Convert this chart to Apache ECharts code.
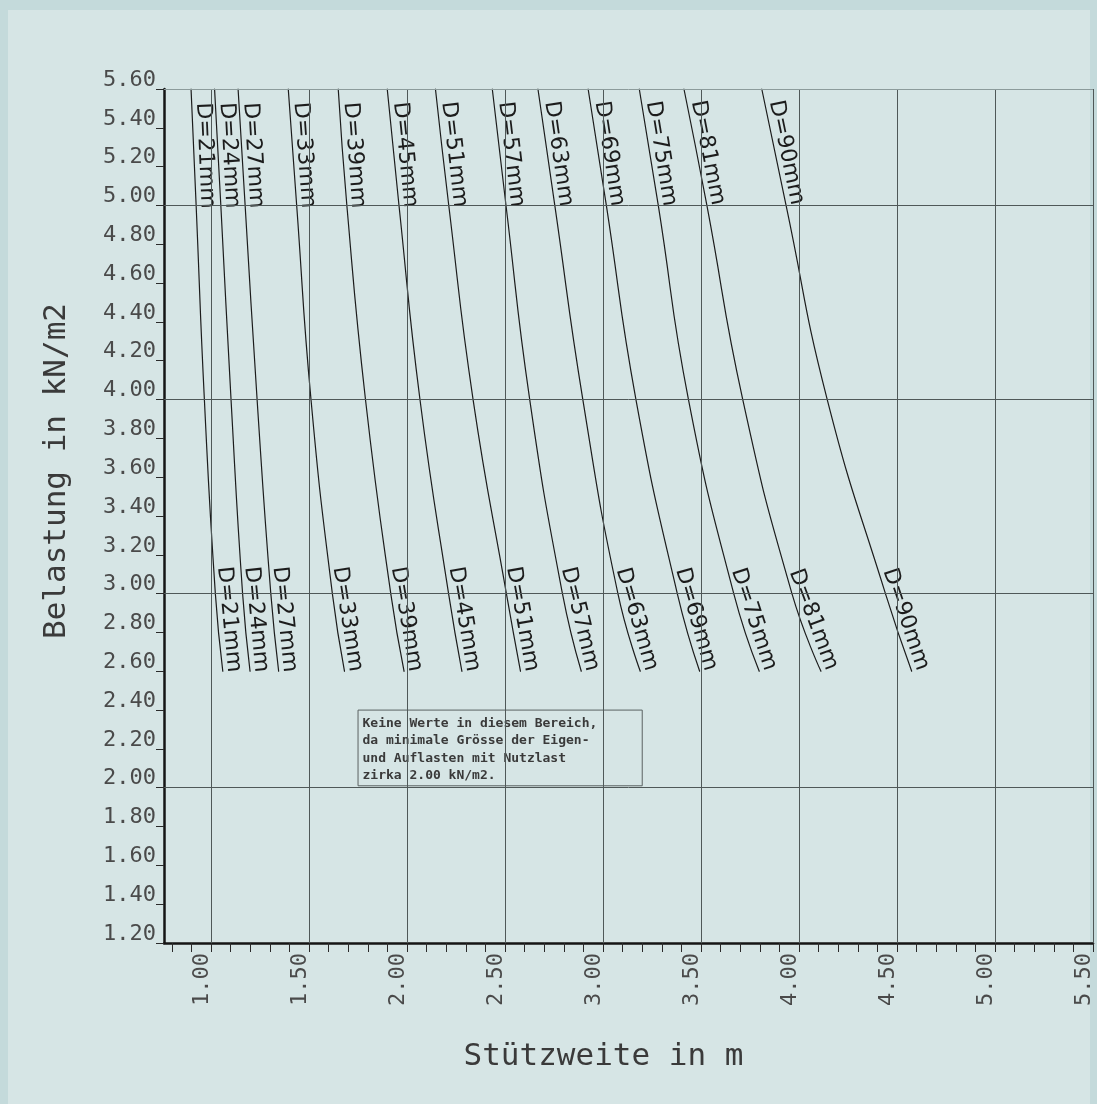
<!DOCTYPE html>
<html>
<head>
<meta charset="utf-8">
<title>Belastung / Stützweite</title>
<script src="https://cdn.jsdelivr.net/npm/echarts@6/dist/echarts.min.js"></script>
<style>
  html, body { margin: 0; padding: 0; background: #c4dadb; }
  #panel { position: absolute; left: 8px; top: 10px; width: 1082px; height: 1094px; background: #d6e5e5; }
  #chart { position: absolute; left: 0; top: 0; width: 1097px; height: 1104px; }
</style>
</head>
<body>
<div id="panel"></div>
<div id="chart"></div>
<script>
// Tube diameters (mm), one curve each
const diameters = [21, 24, 27, 33, 39, 45, 51, 57, 63, 69, 75, 81, 90];

// Load levels (kN/m2) at which each curve is sampled
const loads = [5.6, 5.0, 4.0, 3.0, 2.6];

// Span (m) reached at each load level, per diameter
const span21 = [0.898, 0.924, 0.966, 1.022, 1.060];
const span24 = [1.018, 1.050, 1.102, 1.161, 1.199];
const span27 = [1.138, 1.174, 1.235, 1.305, 1.345];
const span33 = [1.394, 1.437, 1.510, 1.619, 1.681];
const span39 = [1.649, 1.693, 1.788, 1.917, 1.985];
const span45 = [1.899, 1.959, 2.066, 2.212, 2.280];
const span51 = [2.145, 2.213, 2.337, 2.507, 2.579];
const span57 = [2.435, 2.505, 2.626, 2.793, 2.889];
const span63 = [2.668, 2.754, 2.897, 3.076, 3.190];
const span69 = [2.924, 3.017, 3.168, 3.379, 3.493];
const span75 = [3.185, 3.282, 3.436, 3.667, 3.797];
const span81 = [3.413, 3.530, 3.713, 3.964, 4.112];
const span90 = [3.810, 3.934, 4.144, 4.441, 4.575];
const spans = [span21, span24, span27, span33, span39, span45, span51,
               span57, span63, span69, span75, span81, span90];

// Axis ticks and labels
const xLabelValues = [1.0, 1.5, 2.0, 2.5, 3.0, 3.5, 4.0, 4.5, 5.0, 5.5];
const xTickValues = [0.8, 0.9, 1.0, 1.1, 1.2, 1.3, 1.4, 1.5, 1.6, 1.7, 1.8, 1.9,
                     2.0, 2.1, 2.2, 2.3, 2.4, 2.5, 2.6, 2.7, 2.8, 2.9, 3.0, 3.1,
                     3.2, 3.3, 3.4, 3.5, 3.6, 3.7, 3.8, 3.9, 4.0, 4.1, 4.2, 4.3,
                     4.4, 4.5, 4.6, 4.7, 4.8, 4.9, 5.0, 5.1, 5.2, 5.3, 5.4, 5.5];
const yTickValues = [1.2, 1.4, 1.6, 1.8, 2.0, 2.2, 2.4, 2.6, 2.8, 3.0, 3.2, 3.4,
                     3.6, 3.8, 4.0, 4.2, 4.4, 4.6, 4.8, 5.0, 5.2, 5.4, 5.6];

// Grid lines
const xGridValues = [1.0, 1.5, 2.0, 2.5, 3.0, 3.5, 4.0, 4.5, 5.0, 5.5];
const yGridValues = [2.0, 3.0, 4.0, 5.0];
const yTopLine = 5.6;

// Note box text
const noteLines = [
  'Keine Werte in diesem Bereich,',
  'da minimale Grösse der Eigen-',
  'und Auflasten mit Nutzlast',
  'zirka 2.00 kN/m2.'
];

const INK = '#1c1c1c';
const GRIDINK = '#4f5858';
const TICKFONT = 'DejaVu Sans Mono';

const chart = echarts.init(document.getElementById('chart'), null, { renderer: 'canvas' });

function curveLabel(text, rotate, align, offset) {
  return {
    show: true,
    formatter: text,
    position: 'inside',
    rotate: rotate,
    align: align,
    verticalAlign: 'bottom',
    offset: offset,
    fontFamily: 'DejaVu Sans',
    fontSize: 22,
    lineHeight: 20,
    color: INK
  };
}

function buildCurves(angles) {
  return diameters.map((d, i) => {
    const name = 'D=' + d + 'mm';
    const last = loads.length - 1;
    const data = loads.map((y, k) => {
      const item = { value: [spans[i][k], y] };
      if (angles) {
        if (k === 0) item.label = curveLabel(name, -angles[i].top, 'left', [14, -1]);
        if (k === last) item.label = curveLabel(name, -angles[i].bottom, 'right', [2, -1]);
      }
      return item;
    });
    return {
      type: 'line',
      name: name,
      data: data,
      smooth: 0.5,
      showSymbol: true,
      symbol: 'circle',
      symbolSize: 1,
      itemStyle: { color: INK },
      lineStyle: { color: INK, width: 1.2 },
      label: { show: false },
      emphasis: { disabled: true },
      silent: true,
      animation: false,
      z: 3
    };
  });
}

const gridSeries = {
  type: 'line',
  name: 'grid',
  data: [],
  silent: true,
  animation: false,
  z: 1,
  markLine: {
    silent: true,
    animation: false,
    symbol: ['none', 'none'],
    label: { show: false },
    emphasis: { disabled: true },
    lineStyle: { color: GRIDINK, width: 1, type: 'solid' },
    data: [
      ...xGridValues.map(v => ({ xAxis: v })),
      ...yGridValues.map(v => ({ yAxis: v })),
      { yAxis: yTopLine, lineStyle: { color: '#8c9b9b', width: 1, type: 'solid' } }
    ]
  }
};

const noteSeries = {
  type: 'line',
  name: 'note',
  data: [],
  silent: true,
  animation: false,
  z: 5,
  markArea: {
    silent: true,
    animation: false,
    emphasis: { disabled: true },
    itemStyle: { color: '#d6e5e5', borderColor: '#5a6262', borderWidth: 1 },
    label: {
      show: true,
      position: 'insideTopLeft',
      distance: 5,
      align: 'left',
      verticalAlign: 'top',
      formatter: noteLines.join('\n'),
      fontFamily: 'DejaVu Sans Mono',
      fontWeight: 'bold',
      fontSize: 13,
      lineHeight: 17.5,
      color: '#3a3a3a'
    },
    data: [[{ coord: [1.75, 2.40] }, { coord: [3.20, 2.01] }]]
  }
};

const option = {
  animation: false,
  backgroundColor: 'transparent',
  grid: { left: 164, right: 4, top: 89, bottom: 161, containLabel: false },
  xAxis: {
    type: 'value',
    min: 0.76,
    max: 5.5,
    name: 'Stützweite in m',
    nameLocation: 'middle',
    nameGap: 98,
    nameTextStyle: {
      fontFamily: TICKFONT, fontSize: 31, color: '#3a3a3a', padding: [0, 50, 0, 0]
    },
    axisLine: { show: true, onZero: false, lineStyle: { color: '#151515', width: 2.5 } },
    axisTick: {
      show: true, customValues: xTickValues, length: 9,
      lineStyle: { color: '#2a2a2a', width: 1 }
    },
    axisLabel: {
      show: true,
      customValues: xLabelValues,
      rotate: 90,
      margin: 10,
      verticalAlign: 'bottom',
      lineHeight: 18,
      formatter: v => v.toFixed(2),
      fontFamily: TICKFONT,
      fontSize: 22,
      color: '#4a4a4a'
    },
    splitLine: { show: false }
  },
  yAxis: {
    type: 'value',
    min: 1.2,
    max: 5.6,
    name: 'Belastung in kN/m2',
    nameLocation: 'middle',
    nameGap: 92,
    nameTextStyle: {
      fontFamily: TICKFONT, fontSize: 31, color: '#3a3a3a', padding: [0, 0, 0, 90]
    },
    axisLine: { show: true, onZero: false, lineStyle: { color: '#151515', width: 2.5 } },
    axisTick: {
      show: true, customValues: yTickValues, length: 8,
      lineStyle: { color: '#2a2a2a', width: 1 }
    },
    axisLabel: {
      show: true,
      customValues: yTickValues,
      margin: 8,
      verticalAlign: 'bottom',
      lineHeight: 18,
      formatter: v => v.toFixed(2),
      fontFamily: TICKFONT,
      fontSize: 22,
      color: '#4a4a4a'
    },
    splitLine: { show: false }
  },
  series: [gridSeries, ...buildCurves(null), noteSeries]
};

chart.setOption(option);

// Label angles follow each curve's on-screen direction near its two ends
const angles = diameters.map((d, i) => {
  const px = loads.map((y, k) => chart.convertToPixel({ gridIndex: 0 }, [spans[i][k], y]));
  const n = px.length;
  const deg = (a, b) => Math.atan2(b[1] - a[1], b[0] - a[0]) * 180 / Math.PI;
  return { top: deg(px[0], px[1]), bottom: deg(px[n - 2], px[n - 1]) };
});

chart.setOption({ series: [gridSeries, ...buildCurves(angles), noteSeries] });
</script>
</body>
</html>
